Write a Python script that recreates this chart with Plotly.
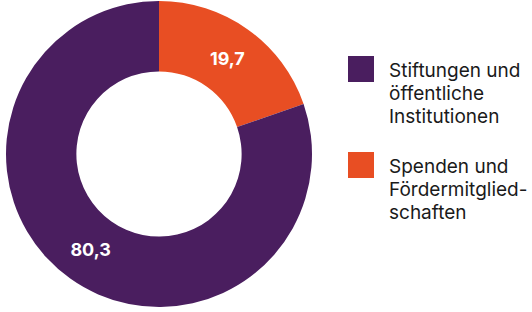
import plotly.graph_objects as go

labels = ["Spenden und<br>Fördermitglied-<br>schaften", "Stiftungen und<br>öffentliche<br>Institutionen"]
values = [19.7, 80.3]
colors = ["#E84E23", "#4A1E5F"]
legend_order = [1, 0]

W, H = 532, 312
fig = go.Figure(go.Pie(
    labels=labels, values=values, sort=False, direction="clockwise", rotation=0,
    hole=0.54, marker=dict(colors=colors, line=dict(width=0)),
    texttemplate="%{value:.1f}", textposition="inside", insidetextorientation="horizontal",
    textfont=dict(family="Inter", size=18, color="white", weight="bold"),
    showlegend=False, hoverinfo="label+value",
    domain=dict(x=[6 / W, 312 / W], y=[1 - 307 / H, 1 - 1 / H]),
))

shapes, annos = [], []
for k, i in enumerate(legend_order):
    top = 56 + k * 96
    shapes.append(dict(type="rect", xref="paper", yref="paper",
                       x0=348 / W, x1=374 / W, y0=1 - (top + 26) / H, y1=1 - top / H,
                       fillcolor=colors[i], line=dict(width=0)))
    for j, line in enumerate(labels[i].split("<br>")):
        annos.append(dict(xref="paper", yref="paper", x=387 / W, y=1 - (top + 14 + j * 23) / H,
                          xanchor="left", yanchor="middle", align="left", showarrow=False,
                          text=line, font=dict(family="Inter", size=19, color="#1a1a1a")))

fig.update_layout(width=W, height=H, margin=dict(l=0, r=0, t=0, b=0),
                  paper_bgcolor="white", plot_bgcolor="white", separators=",.",
                  shapes=shapes, annotations=annos)
fig.write_html("out.html", config={"displayModeBar": False},
               post_script="document.body.style.margin='0';")
